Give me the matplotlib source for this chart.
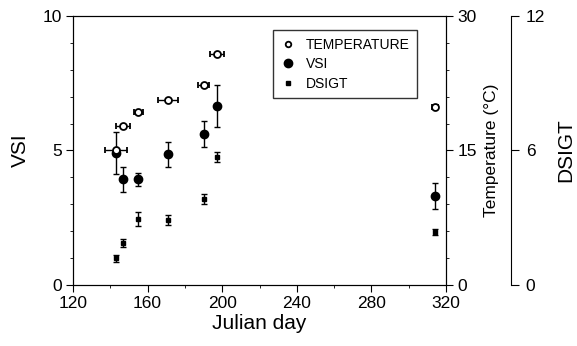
import matplotlib
matplotlib.use("Agg")
import matplotlib.pyplot as plt
from matplotlib.lines import Line2D
from matplotlib.ticker import MultipleLocator

plt.rcParams['font.family'] = ['Liberation Sans', 'DejaVu Sans']

# sampling days (Julian day)
days = [143, 147, 155, 171, 190, 197, 314]

# water temperature (deg C) with x error (days)
temp = [15.0, 17.7, 19.3, 20.6, 22.3, 25.8, 19.8]
temp_xerr = [5.7, 3.7, 2.5, 5.5, 2.9, 3.8, 1.5]

# VSI with y error
vsi = [4.9, 3.93, 3.93, 4.86, 5.61, 6.65, 3.31]
vsi_err = [0.78, 0.47, 0.24, 0.46, 0.48, 0.79, 0.5]

# DSIGT with y error
dsigt = [1.19, 1.86, 2.94, 2.90, 3.82, 5.70, 2.38]
dsigt_err = [0.16, 0.18, 0.3, 0.22, 0.22, 0.22, 0.13]

fig = plt.figure(figsize=(5.77, 3.46), dpi=100)
ax = fig.add_axes([0.1265, 0.1763, 0.6465, 0.7775])
ax_t = ax.twinx()
ax_d = ax.twinx()
ax_d.spines['right'].set_position(('axes', 1.173))
for s in ['top', 'bottom', 'left']:
    ax_d.spines[s].set_visible(False)

# VSI
ax.errorbar(days, vsi, yerr=vsi_err, fmt='o', color='black', ms=6,
            capsize=2.5, elinewidth=1, capthick=1)
ax.set_xlim(120, 320)
ax.set_ylim(0, 10)
ax.xaxis.set_major_locator(MultipleLocator(40))
ax.xaxis.set_minor_locator(MultipleLocator(20))
ax.yaxis.set_major_locator(MultipleLocator(5))
ax.yaxis.set_minor_locator(MultipleLocator(1))
ax.set_xlabel('Julian day', fontsize=15, labelpad=2)
ax.set_ylabel('VSI', fontsize=15, labelpad=9)
ax.tick_params(which='major', direction='out', length=5, labelsize=12.5, pad=3)
ax.tick_params(which='minor', direction='out', length=2.5)

# temperature
ax_t.errorbar(days, temp, xerr=temp_xerr, fmt='o', color='black', mfc='white',
              mec='black', mew=1.3, ms=5, capsize=2.5, elinewidth=1, capthick=1)
ax_t.set_ylim(0, 30)
ax_t.yaxis.set_major_locator(MultipleLocator(15))
ax_t.yaxis.set_minor_locator(MultipleLocator(3))
ax_t.tick_params(which='major', direction='out', length=5, labelsize=12.5, pad=3)
ax_t.tick_params(which='minor', direction='out', length=2.5)
ax_t.set_ylabel('Temperature (°C)', fontsize=12.5, labelpad=5)

# DSIGT
ax_d.errorbar(days, dsigt, yerr=dsigt_err, fmt='s', color='black', ms=3,
              capsize=2.5, elinewidth=1, capthick=1)
ax_d.set_ylim(0, 12)
ax_d.yaxis.set_major_locator(MultipleLocator(6))
ax_d.tick_params(which='major', direction='out', length=6, labelsize=12.5, pad=5)
ax_d.set_ylabel('DSIGT', fontsize=15, labelpad=8)

handles = [
    Line2D([], [], ls='none', marker='o', ms=4, mfc='white', mec='black', mew=1.3),
    Line2D([], [], ls='none', marker='o', ms=6, color='black'),
    Line2D([], [], ls='none', marker='s', ms=3, color='black'),
]
leg = ax_d.legend(handles, ['TEMPERATURE', 'VSI', 'DSIGT'], loc='upper left',
                  bbox_to_anchor=(0.536, 0.948), fontsize=10, frameon=True,
                  fancybox=False, edgecolor='black', handlelength=1.0,
                  handletextpad=0.8, labelspacing=0.4, borderpad=0.55,
                  borderaxespad=0)
leg.get_frame().set_linewidth(1)

fig.savefig('out.png', dpi=100)
